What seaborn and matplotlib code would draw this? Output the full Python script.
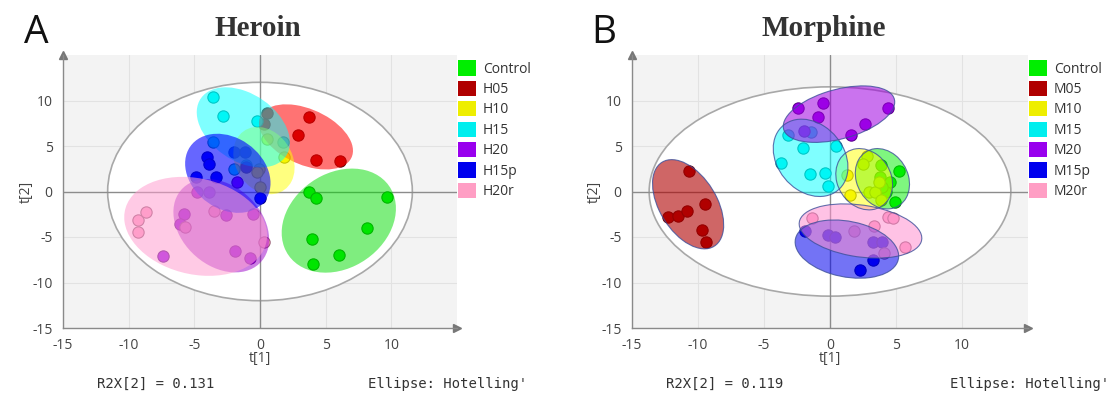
import numpy as np
import pandas as pd
import matplotlib
matplotlib.use("Agg")
import matplotlib.pyplot as plt
import matplotlib.colors as mcolors
from matplotlib.patches import Ellipse, Patch
from matplotlib.ticker import MultipleLocator
import seaborn as sns

# ---- data ----
heroin_groups = ["Control", "H05", "H10", "H15", "H20", "H15p", "H20r"]
morphine_groups = ["Control", "M05", "M10", "M15", "M20", "M15p", "M20r"]
group_colors = ["#00ee00", "#b00000", "#eeee00", "#00eeee", "#9900ee", "#0000ee", "#ff9ec4"]

heroin_counts = [7, 6, 5, 7, 10, 8, 6]
heroin_t1 = [3.76, 4.24, 9.64, 8.17, 3.98, 6.04, 4.04,
             3.76, 2.87, 4.24, 6.10, 0.56, 0.30,
             1.83, 0.50, -0.05, 0.00, -0.25,
             -3.55, -2.80, -0.25, -3.55, -2.00, -1.10, 1.78,
             -1.78, -3.90, -4.80, -5.80, -6.10, -2.60, -0.56, -1.90, -0.76, -7.40,
             -4.06, -3.90, -4.90, -3.35, -1.95, -1.15, -1.07, 0.00,
             -9.30, -8.70, -9.30, -3.50, 0.30, -5.70]
heroin_t2 = [-0.04, -0.67, -0.59, -4.04, -5.22, -7.00, -7.96,
             8.20, 6.20, 3.50, 3.40, 8.60, 7.40,
             3.80, 5.80, 2.50, 0.45, 2.10,
             10.40, 8.30, 7.70, 5.40, 2.50, 2.90, 5.45,
             1.00, 0.00, -0.10, -2.50, -3.60, -2.60, -2.50, -6.50, -7.30, -7.10,
             3.80, 3.00, 1.60, 1.60, 4.30, 4.30, 2.70, -0.70,
             -3.10, -2.30, -4.50, -2.10, -5.50, -3.90]

morphine_counts = [7, 7, 8, 8, 7, 7, 7]
morphine_t1 = [3.89, 5.20, 4.95, 4.57, 4.25, 3.82, 3.94,
               -10.70, -12.30, -11.50, -10.80, -9.50, -9.70, -9.40,
               1.31, 1.48, 2.81, 2.51, 2.99, 3.44, 3.89, 3.69,
               -3.17, -2.04, -3.72, -1.51, -0.38, -0.13, 0.43, -1.46,
               -2.40, -0.50, -0.90, -2.00, 1.56, 2.64, 4.40,
               -1.88, -0.15, 0.38, 3.24, 3.94, 3.24, 2.31,
               -1.33, 3.34, 4.40, 4.77, 5.65, 4.07, 1.81]
morphine_t2 = [2.94, 2.20, -1.18, 1.03, -0.07, 1.58, 0.48,
               2.20, -2.80, -2.70, -2.10, -1.40, -4.20, -5.50,
               1.84, -0.33, 3.86, 3.05, 0.00, -0.07, -0.92, 1.03,
               6.20, 4.80, 3.10, 1.95, 2.06, 0.59, 4.96, 6.50,
               9.20, 9.70, 8.20, 6.70, 6.25, 7.40, 9.20,
               -4.38, -4.78, -5.04, -5.59, -5.59, -7.50, -8.64,
               -2.90, -3.75, -2.76, -2.94, -6.14, -6.76, -4.38]

# group ellipses: centre, semi-axes (data units), angle (deg)
heroin_ell_cx = [6.0, 3.5, 0.3, -1.27, -2.95, -2.45, -4.9]
heroin_ell_cy = [-3.2, 6.0, 3.4, 7.05, -3.76, 2.0, -3.83]
heroin_ell_a = [5.9, 4.27, 3.75, 4.77, 5.32, 4.49, 5.92]
heroin_ell_b = [4.1, 2.72, 2.25, 3.03, 3.36, 3.05, 4.91]
heroin_ell_ang = [70, -45, -78, -60, -70, -70, -45]
heroin_ell_alpha = [0.5, 0.55, 0.5, 0.5, 0.5, 0.6, 0.55]
heroin_ell_colors = ["#00dd00", "#ff0000", "#ffff00", "#00ffff", "#9a00c8", "#0000ff", "#ff9fd0"]

morphine_ell_cx = [3.97, -10.75, 2.59, -1.47, 0.68, 1.28, 2.31]
morphine_ell_cy = [1.4, -1.4, 1.35, 3.7, 8.5, -6.33, -4.34]
morphine_ell_a = [3.35, 5.1, 3.4, 4.34, 4.55, 4.1, 4.75]
morphine_ell_b = [2.0, 2.3, 2.1, 2.69, 2.6, 2.97, 2.81]
morphine_ell_ang = [-80, -72, -80, -75, 27, -25, -15]
morphine_ell_alpha = [0.5, 0.6, 0.5, 0.5, 0.55, 0.55, 0.55]
morphine_ell_colors = ["#00ee00", "#b00000", "#ffff00", "#00ffff", "#a000e0", "#0000ee", "#ff90d0"]

# Hotelling T2 ellipse (semi-axes t1, t2)
heroin_hotelling = [11.6, 12.0]
morphine_hotelling = [13.7, 11.5]


def draw_panel(ax, groups, counts, t1, t2, ell, ell_colors, ell_alpha, ell_edge, hot):
    df = pd.DataFrame({"t1": t1, "t2": t2, "group": np.repeat(groups, counts)})
    ax.set_xlim(-15, 15)
    ax.set_ylim(-15, 15)
    ax.set_facecolor("#f3f3f3")
    ax.set_xticks(np.arange(-15, 15, 5))
    ax.set_yticks(np.arange(-15, 15, 5))
    ax.xaxis.set_minor_locator(MultipleLocator(2.5))
    ax.yaxis.set_minor_locator(MultipleLocator(2.5))
    ax.grid(True, which="major", color="#e2e2e2", lw=0.8)
    ax.set_axisbelow(True)

    ax.add_patch(Ellipse((0, 0), 2 * hot[0], 2 * hot[1], facecolor="white",
                         edgecolor="#a8a8a8", lw=1.2, zorder=1))
    ax.axhline(0, color="#8c8c8c", lw=1.0, zorder=1.5)
    ax.axvline(0, color="#8c8c8c", lw=1.0, zorder=1.5)

    for g, c in zip(groups, group_colors):
        sub = df[df["group"] == g]
        dark = np.array(mcolors.to_rgb(c)) * 0.6
        sns.scatterplot(data=sub, x="t1", y="t2", color=c, edgecolor=dark,
                        linewidth=0.8, s=66, ax=ax, zorder=2, legend=False)

    for cx, cy, a, b, ang, c, al in zip(*ell, ell_colors, ell_alpha):
        ax.add_patch(Ellipse((cx, cy), 2 * a, 2 * b, angle=ang, facecolor=c, alpha=al,
                             edgecolor="none", lw=0, zorder=3))
        if ell_edge:
            ax.add_patch(Ellipse((cx, cy), 2 * a, 2 * b, angle=ang, facecolor="none",
                                 edgecolor=ell_edge, lw=0.8, alpha=0.8, zorder=3.1))

    for s in ["top", "right"]:
        ax.spines[s].set_visible(False)
    for s in ["left", "bottom"]:
        ax.spines[s].set_color("#8a8a8a")
        ax.spines[s].set_linewidth(1.0)
    ax.tick_params(which="major", length=4, width=0.8, color="#8a8a8a",
                   labelcolor="#444444", labelsize=10, direction="out")
    ax.tick_params(which="minor", length=2, width=0.8, color="#aaaaaa", direction="out")
    ax.plot(0, 1, marker="^", color="#777777", ms=6, transform=ax.transAxes, clip_on=False)
    ax.plot(1, 0, marker=">", color="#777777", ms=6, transform=ax.transAxes, clip_on=False)

    ax.set_xlabel("t[1]", fontsize=10, color="#444444")
    ax.set_ylabel("t[2]", fontsize=10, color="#444444")
    ax.xaxis.set_label_coords(0.5, -0.085)
    ax.yaxis.set_label_coords(-0.075, 0.5)

    handles = [Patch(facecolor=c, edgecolor="none", label=g) for g, c in zip(groups, group_colors)]
    ax.legend(handles=handles, loc="upper left", bbox_to_anchor=(1.0, 0.985), frameon=False,
              handlelength=1.3, handleheight=1.3, handletextpad=0.45, labelspacing=0.3,
              borderaxespad=0.0, borderpad=0.1, fontsize=10, labelcolor="#333333")


sns.set_theme(style="white")
plt.rcParams["font.family"] = ["Open Sans", "DejaVu Sans"]
plt.rcParams["axes.unicode_minus"] = False

fig = plt.figure(figsize=(11.1, 3.98), dpi=100)
axA = fig.add_axes([63 / 1110, 70 / 398, 394 / 1110, 273 / 398])
axB = fig.add_axes([632 / 1110, 70 / 398, 396 / 1110, 273 / 398])

draw_panel(axA, heroin_groups, heroin_counts, heroin_t1, heroin_t2,
           (heroin_ell_cx, heroin_ell_cy, heroin_ell_a, heroin_ell_b, heroin_ell_ang),
           heroin_ell_colors, heroin_ell_alpha, None, heroin_hotelling)
draw_panel(axB, morphine_groups, morphine_counts, morphine_t1, morphine_t2,
           (morphine_ell_cx, morphine_ell_cy, morphine_ell_a, morphine_ell_b, morphine_ell_ang),
           morphine_ell_colors, morphine_ell_alpha, "#3c4f9a", morphine_hotelling)

# titles and panel letters
fig.text(258 / 1110, 1 - 29 / 398, "Heroin", ha="center", va="center", fontsize=21,
         fontweight="bold", family="Liberation Serif", color="#333333")
fig.text(824 / 1110, 1 - 29 / 398, "Morphine", ha="center", va="center", fontsize=21,
         fontweight="bold", family="Liberation Serif", color="#333333")
fig.text(24 / 1110, 1 - 33 / 398, "A", ha="left", va="center", fontsize=28, color="#111111")
fig.text(591 / 1110, 1 - 33 / 398, "B", ha="left", va="center", fontsize=28, color="#111111")

# footer annotations
fig.text(97 / 1110, 1 - 384 / 398, "R2X[2] = 0.131", ha="left", va="center",
         family="DejaVu Sans Mono", fontsize=10, color="#333333")
fig.text(368 / 1110, 1 - 384 / 398, "Ellipse: Hotelling'", ha="left", va="center",
         family="DejaVu Sans Mono", fontsize=10, color="#333333")
fig.text(666 / 1110, 1 - 384 / 398, "R2X[2] = 0.119", ha="left", va="center",
         family="DejaVu Sans Mono", fontsize=10, color="#333333")
fig.text(950 / 1110, 1 - 384 / 398, "Ellipse: Hotelling'", ha="left", va="center",
         family="DejaVu Sans Mono", fontsize=10, color="#333333")

fig.savefig("out.png", dpi=100)
